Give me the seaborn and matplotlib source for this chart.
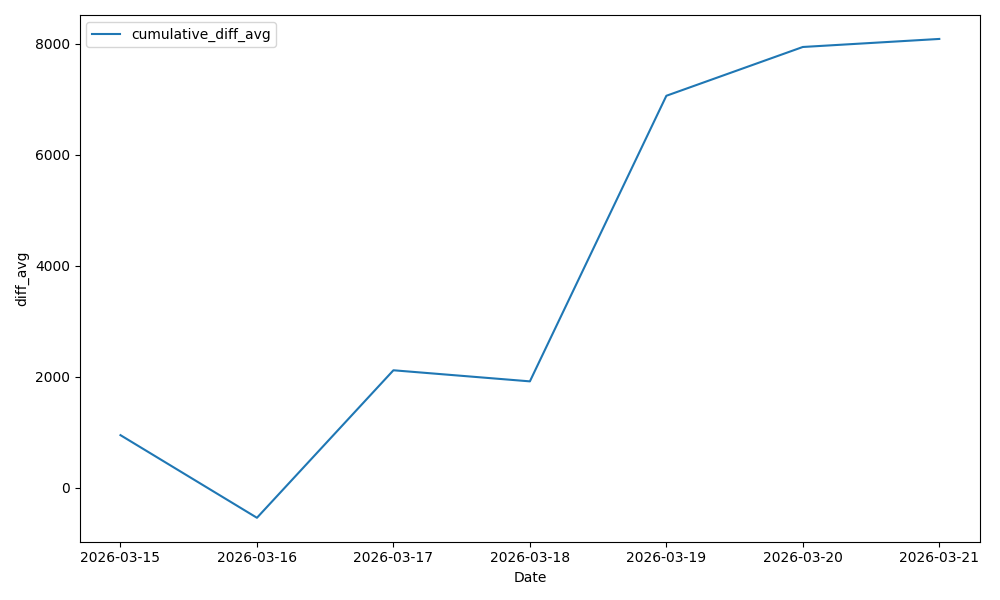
import matplotlib
matplotlib.use("Agg")
import matplotlib.pyplot as plt
import seaborn as sns
import pandas as pd

dates = ["2026-03-15", "2026-03-16", "2026-03-17", "2026-03-18",
         "2026-03-19", "2026-03-20", "2026-03-21"]
cumulative_diff_avg = [945, -545, 2115, 1915, 7065, 7945, 8090]

df = pd.DataFrame({"Date": dates, "cumulative_diff_avg": cumulative_diff_avg})

fig, ax = plt.subplots(figsize=(10, 6), dpi=100)
sns.lineplot(data=df, x="Date", y="cumulative_diff_avg", ax=ax,
             label="cumulative_diff_avg", color="#1f77b4")
ax.set_xlabel("Date")
ax.set_ylabel("diff_avg")
ax.legend(loc="upper left")
fig.tight_layout()
fig.savefig("out.png")
